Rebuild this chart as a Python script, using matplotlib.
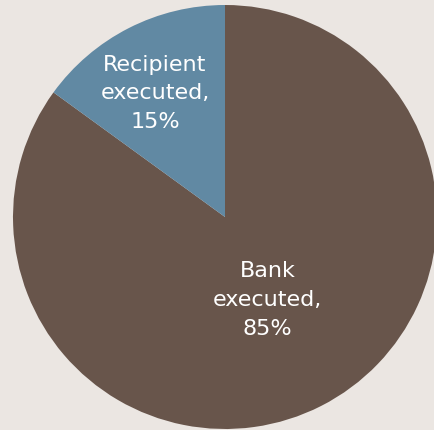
import numpy as np
import matplotlib
matplotlib.use("Agg")
import matplotlib.pyplot as plt

# data
labels = ["Bank\nexecuted,\n85%", "Recipient\nexecuted,\n15%"]
shares = [85, 15]
colors = ["#68554b", "#6189a3"]
label_radius = [0.44, 0.67]
label_shift = [0, 2.5]  # degrees, nudges label off the slice middle

bg = "#ebe6e2"

fig = plt.figure(figsize=(4.35, 4.30), dpi=100, facecolor=bg)
ax = fig.add_axes([13 / 435, 1 / 430, 424 / 435, 424 / 430])
ax.set_facecolor(bg)

wedges, _ = ax.pie(shares, colors=colors, startangle=90, counterclock=False,
                   radius=1.0, wedgeprops=dict(linewidth=0))

# labels inside slices
for w, lab, r, s in zip(wedges, labels, label_radius, label_shift):
    mid = np.deg2rad((w.theta1 + w.theta2) / 2 + s)
    ax.text(r * np.cos(mid), r * np.sin(mid), lab, ha="center", va="center",
            color="white", fontsize=16, linespacing=1.55)

ax.set_xlim(-1, 1)
ax.set_ylim(-1, 1)
ax.set_aspect("equal")
ax.axis("off")

fig.savefig("out.png", dpi=100, facecolor=bg)
